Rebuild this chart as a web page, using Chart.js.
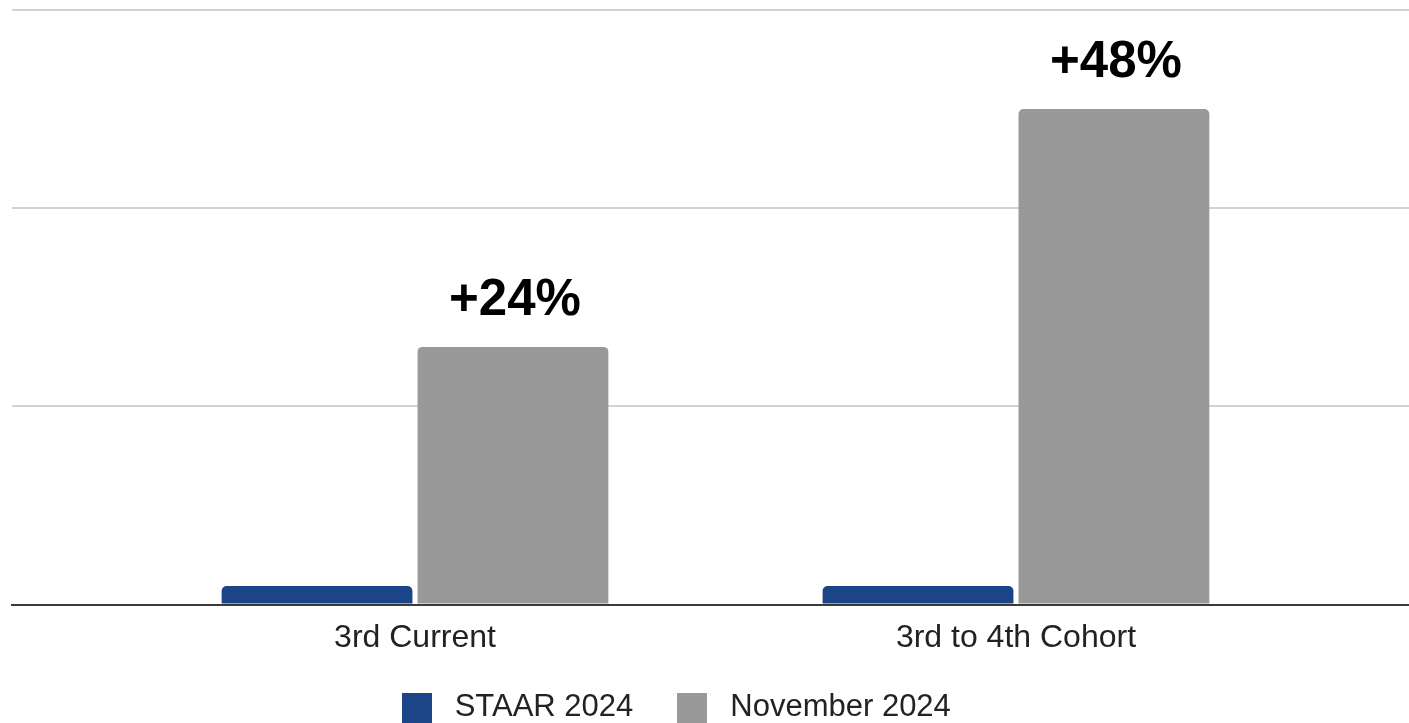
<!DOCTYPE html>
<html>
<head>
<meta charset="utf-8">
<script src="https://cdn.jsdelivr.net/npm/chart.js@4.4.1/dist/chart.umd.min.js"></script>
<style>
  html, body { margin: 0; padding: 0; background: #ffffff; }
  #wrap { width: 1409px; height: 723px; position: relative; }
</style>
</head>
<body>
<div id="wrap"><canvas id="c"></canvas></div>
<script>
const categories = ['3rd Current', '3rd to 4th Cohort'];
const seriesNames = ['STAAR 2024', 'November 2024'];
const staar2024 = [0.93, 0.93];
const november2024 = [13.0, 25.0];
const changeLabels = ['+24%', '+48%'];
const yTicks = [0, 10, 20, 30];
const seriesColors = ['#1c4587', '#999999'];

const FONT = "'Liberation Sans', Arial, sans-serif";

function swatch(color) {
  const c = document.createElement('canvas');
  c.width = 30; c.height = 30;
  const g = c.getContext('2d');
  g.fillStyle = color;
  g.fillRect(0, 0, 30, 30);
  return c;
}
const swatches = seriesColors.map(swatch);

const barLabelPlugin = {
  id: 'barLabels',
  afterDatasetsDraw(chart) {
    const meta = chart.getDatasetMeta(1);
    const ctx = chart.ctx;
    ctx.save();
    ctx.font = 'bold 51px ' + FONT;
    ctx.fillStyle = '#000000';
    ctx.textAlign = 'center';
    ctx.textBaseline = 'alphabetic';
    meta.data.forEach((bar, i) => {
      ctx.fillText(changeLabels[i], bar.x + 2, bar.y - 32);
    });
    ctx.restore();
  }
};

const legendShiftPlugin = {
  id: 'legendShift',
  afterLayout(chart) {
    const lg = chart.legend;
    if (lg) { lg.left -= 38; lg.right -= 38; }
  }
};

new Chart(document.getElementById('c'), {
  type: 'bar',
  data: {
    datasets: [
      {
        label: seriesNames[0],
        data: categories.map((c, i) => ({ x: i, y: staar2024[i] })),
        backgroundColor: seriesColors[0],
        borderRadius: { topLeft: 5, topRight: 5 },
        borderSkipped: 'bottom',
        categoryPercentage: 0.652,
        barPercentage: 0.974
      },
      {
        label: seriesNames[1],
        data: categories.map((c, i) => ({ x: i, y: november2024[i] })),
        backgroundColor: seriesColors[1],
        borderRadius: { topLeft: 5, topRight: 5 },
        borderSkipped: 'bottom',
        categoryPercentage: 0.652,
        barPercentage: 0.974
      }
    ]
  },
  options: {
    responsive: true,
    maintainAspectRatio: false,
    animation: false,
    layout: { padding: { left: 12, right: 0, top: 10, bottom: -10 } },
    scales: {
      x: {
        type: 'linear',
        min: -0.6706,
        max: 1.654,
        offset: false,
        grid: { display: false, drawTicks: false },
        border: { display: true, color: '#3a3a3a', width: 2 },
        afterBuildTicks(scale) {
          scale.ticks = categories.map((c, i) => ({ value: i }));
        },
        afterFit(scale) { scale.height = 51; },
        ticks: {
          padding: 14,
          color: '#222222',
          font: { family: FONT, size: 32 },
          callback: (v) => categories[v] ?? ''
        }
      },
      y: {
        min: yTicks[0],
        max: yTicks[yTicks.length - 1],
        afterBuildTicks(scale) {
          scale.ticks = yTicks.map(v => ({ value: v }));
        },
        ticks: { display: false },
        border: { display: false },
        grid: {
          drawTicks: false,
          lineWidth: 2,
          color: (ctx) => ctx.tick && ctx.tick.value === 0 ? 'rgba(0,0,0,0)' : '#d2d2d2'
        }
      }
    },
    plugins: {
      tooltip: { enabled: false },
      legend: {
        position: 'bottom',
        labels: {
          usePointStyle: true,
          pointStyleWidth: 45,
          boxHeight: 31,
          padding: 36.5,
          color: '#222222',
          font: { family: FONT, size: 31 },
          generateLabels(chart) {
            const items = Chart.defaults.plugins.legend.labels.generateLabels(chart);
            items.forEach((it, i) => { it.pointStyle = swatches[i]; });
            return items;
          }
        }
      }
    }
  },
  plugins: [barLabelPlugin, legendShiftPlugin]
});
</script>
</body>
</html>
